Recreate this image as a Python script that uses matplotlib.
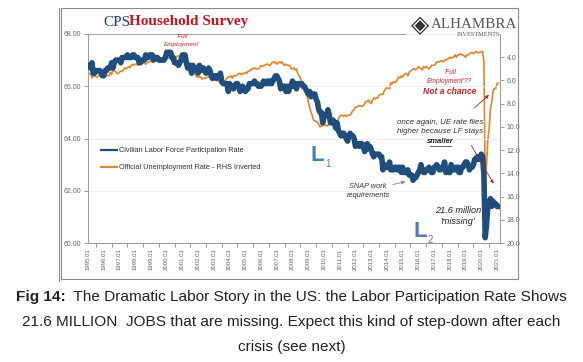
import matplotlib
matplotlib.use("Agg")
import matplotlib.pyplot as plt
from matplotlib.lines import Line2D
import numpy as np

plt.rcParams["font.family"] = ["Liberation Sans", "DejaVu Sans"]

# monthly data, Jan 1995 .. Feb 2021
lfpr = [
    66.8, 66.8, 66.7, 66.9, 66.5, 66.5, 66.6, 66.6, 66.6, 66.6, 66.5, 66.4,  # 1995
    66.4, 66.6, 66.6, 66.7, 66.7, 66.7, 66.9, 66.7, 66.9, 67.0, 67.0, 67.0,  # 1996
    67.0, 66.9, 67.1, 67.1, 67.1, 67.1, 67.2, 67.1, 67.1, 67.1, 67.2, 67.2,  # 1997
    67.1, 67.1, 67.1, 66.9, 66.9, 67.0, 67.0, 67.0, 67.2, 67.1, 67.1, 67.2,  # 1998
    67.2, 67.2, 67.0, 67.1, 67.1, 67.1, 67.0, 67.0, 67.0, 67.0, 67.0, 67.1,  # 1999
    67.3, 67.3, 67.3, 67.3, 67.1, 67.1, 66.9, 66.9, 66.9, 66.8, 66.9, 67.0,  # 2000
    67.2, 67.1, 67.2, 66.9, 66.7, 66.7, 66.8, 66.5, 66.8, 66.7, 66.7, 66.7,  # 2001
    66.5, 66.8, 66.6, 66.7, 66.7, 66.6, 66.5, 66.6, 66.7, 66.6, 66.4, 66.3,  # 2002
    66.4, 66.4, 66.3, 66.4, 66.4, 66.5, 66.2, 66.1, 66.1, 66.1, 66.1, 65.8,  # 2003
    66.1, 66.0, 66.0, 65.9, 66.0, 66.1, 66.1, 66.0, 65.8, 65.9, 66.0, 65.9,  # 2004
    65.8, 65.9, 65.9, 66.1, 66.1, 66.1, 66.1, 66.2, 66.1, 66.1, 66.0, 66.0,  # 2005
    66.0, 66.1, 66.2, 66.1, 66.1, 66.2, 66.1, 66.2, 66.1, 66.2, 66.3, 66.4,  # 2006
    66.4, 66.3, 66.2, 65.9, 66.0, 66.0, 66.0, 65.8, 66.0, 65.8, 66.0, 66.0,  # 2007
    66.2, 66.0, 66.1, 65.9, 66.1, 66.1, 66.1, 66.1, 66.0, 66.0, 65.9, 65.8,  # 2008
    65.7, 65.8, 65.6, 65.7, 65.7, 65.7, 65.5, 65.4, 65.1, 65.0, 65.0, 64.6,  # 2009
    64.8, 64.9, 64.9, 65.1, 64.9, 64.6, 64.6, 64.7, 64.6, 64.4, 64.6, 64.3,  # 2010
    64.2, 64.1, 64.2, 64.2, 64.1, 64.0, 63.9, 64.1, 64.2, 64.1, 64.1, 64.0,  # 2011
    63.7, 63.8, 63.8, 63.7, 63.8, 63.8, 63.7, 63.5, 63.6, 63.8, 63.6, 63.7,  # 2012
    63.6, 63.4, 63.3, 63.4, 63.4, 63.4, 63.4, 63.3, 63.3, 62.8, 63.0, 62.9,  # 2013
    62.9, 62.9, 63.1, 62.8, 62.8, 62.8, 62.9, 62.9, 62.8, 62.9, 62.9, 62.7,  # 2014
    62.9, 62.7, 62.7, 62.7, 62.8, 62.6, 62.6, 62.6, 62.4, 62.5, 62.5, 62.6,  # 2015
    62.7, 62.8, 63.0, 62.8, 62.7, 62.7, 62.8, 62.8, 62.9, 62.8, 62.7, 62.7,  # 2016
    62.9, 62.9, 63.0, 62.9, 62.8, 62.8, 62.9, 62.9, 63.1, 62.7, 62.8, 62.7,  # 2017
    62.7, 63.0, 62.9, 62.8, 62.8, 62.9, 62.9, 62.7, 62.7, 62.9, 62.9, 63.0,  # 2018
    63.1, 63.1, 63.0, 62.8, 62.9, 62.9, 63.0, 63.2, 63.2, 63.3, 63.2, 63.2,  # 2019
    63.4, 63.3, 62.6, 60.2, 60.7, 61.4, 61.5, 61.7, 61.4, 61.6, 61.5, 61.5,  # 2020
    61.4, 61.4,                                                              # 2021
]

unrate = [
    5.6, 5.4, 5.4, 5.8, 5.6, 5.6, 5.7, 5.7, 5.6, 5.5, 5.6, 5.6,  # 1995
    5.6, 5.5, 5.5, 5.6, 5.6, 5.3, 5.5, 5.1, 5.2, 5.2, 5.4, 5.4,  # 1996
    5.3, 5.2, 5.2, 5.1, 4.9, 5.0, 4.9, 4.8, 4.9, 4.7, 4.6, 4.7,  # 1997
    4.6, 4.6, 4.7, 4.3, 4.4, 4.5, 4.5, 4.5, 4.6, 4.5, 4.4, 4.4,  # 1998
    4.3, 4.4, 4.2, 4.3, 4.2, 4.3, 4.3, 4.2, 4.2, 4.1, 4.1, 4.0,  # 1999
    4.0, 4.1, 4.0, 3.8, 4.0, 4.0, 4.0, 4.1, 3.9, 3.9, 3.9, 3.9,  # 2000
    4.2, 4.2, 4.3, 4.4, 4.3, 4.5, 4.6, 4.9, 5.0, 5.3, 5.5, 5.7,  # 2001
    5.7, 5.7, 5.7, 5.9, 5.8, 5.8, 5.8, 5.7, 5.7, 5.7, 5.9, 6.0,  # 2002
    5.8, 5.9, 5.9, 6.0, 6.1, 6.3, 6.2, 6.1, 6.1, 6.0, 5.8, 5.7,  # 2003
    5.7, 5.6, 5.8, 5.6, 5.6, 5.6, 5.5, 5.4, 5.4, 5.5, 5.4, 5.4,  # 2004
    5.3, 5.4, 5.2, 5.2, 5.1, 5.0, 5.0, 4.9, 5.0, 5.0, 5.0, 4.9,  # 2005
    4.7, 4.8, 4.7, 4.7, 4.6, 4.6, 4.7, 4.7, 4.5, 4.4, 4.5, 4.4,  # 2006
    4.6, 4.5, 4.4, 4.5, 4.4, 4.6, 4.7, 4.6, 4.7, 4.7, 4.7, 5.0,  # 2007
    5.0, 4.9, 5.1, 5.0, 5.4, 5.6, 5.8, 6.1, 6.1, 6.5, 6.8, 7.3,  # 2008
    7.8, 8.3, 8.7, 9.0, 9.4, 9.5, 9.5, 9.6, 9.8, 10.0, 9.9, 9.9,  # 2009
    9.8, 9.8, 9.9, 9.9, 9.6, 9.4, 9.4, 9.5, 9.5, 9.4, 9.8, 9.3,  # 2010
    9.1, 9.0, 9.0, 9.1, 9.0, 9.1, 9.0, 9.0, 9.0, 8.8, 8.6, 8.5,  # 2011
    8.3, 8.3, 8.2, 8.2, 8.2, 8.2, 8.2, 8.0, 7.8, 7.8, 7.7, 7.9,  # 2012
    8.0, 7.7, 7.5, 7.6, 7.5, 7.5, 7.3, 7.2, 7.2, 7.2, 6.9, 6.7,  # 2013
    6.6, 6.7, 6.7, 6.2, 6.3, 6.1, 6.2, 6.1, 5.9, 5.7, 5.8, 5.6,  # 2014
    5.7, 5.5, 5.4, 5.4, 5.6, 5.3, 5.2, 5.1, 5.0, 5.0, 5.1, 5.0,  # 2015
    4.8, 4.9, 5.0, 5.1, 4.8, 4.9, 4.8, 4.9, 5.0, 4.9, 4.7, 4.7,  # 2016
    4.7, 4.6, 4.4, 4.4, 4.4, 4.3, 4.3, 4.4, 4.3, 4.2, 4.2, 4.1,  # 2017
    4.0, 4.1, 4.0, 4.0, 3.8, 4.0, 3.8, 3.8, 3.7, 3.8, 3.8, 3.9,  # 2018
    4.0, 3.8, 3.8, 3.7, 3.6, 3.6, 3.7, 3.6, 3.5, 3.6, 3.6, 3.6,  # 2019
    3.5, 3.5, 4.4, 14.8, 13.3, 11.1, 10.2, 8.4, 7.9, 6.9, 6.7, 6.7,  # 2020
    6.3, 6.2,                                                     # 2021
]

years = list(range(1995, 2022))
year_labels = [f"{y}.01" for y in years]
left_ticks = [60, 62, 64, 66, 68]
right_ticks = [4, 6, 8, 10, 12, 14, 16, 18, 20]

BLUE = "#1f4e7c"
ORANGE = "#e0862c"
RED = "#c0282e"
GREY = "#666666"
LBLUE = "#4f7fba"

W, H = 583, 362
fig = plt.figure(figsize=(W / 100, H / 100), dpi=100)


def fx(px):
    return px / W


def fy(py):
    return 1 - py / H


x = 1995 + np.arange(len(lfpr)) / 12

ax = fig.add_axes([fx(87.7), fy(243), fx(500) - fx(87.7), fy(34) - fy(243)])
ax2 = ax.twinx()
ax.set_zorder(2)
ax.patch.set_visible(False)

ax.plot(x, lfpr, color=BLUE, lw=4.0, solid_joinstyle="round", zorder=3)
ax2.plot(x, unrate, color=ORANGE, lw=1.2, zorder=2)

ax.set_xlim(1994.98, 2021.19)
ax.set_ylim(60, 68)
ax2.set_ylim(20, 2)

ax.set_xticks(years)
ax.set_xticklabels(year_labels, rotation=90, fontsize=4.3, color=GREY)
ax.set_xticks([y + 0.5 for y in years[:-1]], minor=True)
ax.tick_params(axis="x", which="major", length=0, pad=4)
ax.tick_params(axis="x", which="minor", length=3, width=0.6, color="#888888")
ax.set_yticks(left_ticks)
ax.set_yticklabels([f"{v:.2f}" for v in left_ticks], fontsize=5, color=GREY)
ax.tick_params(axis="y", length=3, width=0.6, color="#888888", pad=2)
ax.grid(axis="y", color="#ececec", lw=0.6)
ax.set_axisbelow(True)

ax2.set_yticks(right_ticks)
ax2.set_yticklabels([f"{v:.1f}" for v in right_ticks], fontsize=5, color=GREY)
ax2.tick_params(axis="y", length=3, width=0.6, color="#888888", pad=2)

for a in (ax, ax2):
    for s in a.spines.values():
        s.set_visible(False)
ax.spines["left"].set_visible(True)
ax.spines["bottom"].set_visible(True)
ax2.spines["right"].set_visible(True)
for s in (ax.spines["left"], ax.spines["bottom"], ax2.spines["right"]):
    s.set_color("#9a9a9a")
    s.set_linewidth(0.7)
ax.plot([0, 0.77], [1, 1], transform=ax.transAxes, color="#9a9a9a", lw=0.7, clip_on=False)

handles = [Line2D([], [], color=BLUE, lw=1.6), Line2D([], [], color=ORANGE, lw=1.6)]
ax.legend(handles, ["Civilian Labor Force Participation Rate",
                    "Official Unemployment Rate - RHS Inverted"],
          loc="upper left", bbox_to_anchor=(0.015, 0.49), frameon=False,
          fontsize=5.3, labelcolor="#333333", handlelength=2.2, handletextpad=0.3,
          labelspacing=1.35)

# annotations
it = dict(style="italic", ha="center", va="center")
ax.text(2001.0, 67.75, "'Full\nEmployment'", fontsize=4.6, color=RED, linespacing=1.6, **it)
ax.text(2018.0, 66.35, "'Full\nEmployment'??", fontsize=4.8, color=RED, linespacing=1.3, **it)
ax.text(2018.0, 65.78, "Not a chance", fontsize=6.2, color=RED, weight="bold", **it)
ax.text(2017.4, 64.44, "once again, UE rate flies\nhigher because LF stays", fontsize=5.7,
        color="#333333", linespacing=1.3, **it)
ax.text(2017.4, 63.87, "smaller", fontsize=5.5, color="#222222", weight="bold", **it)
ax.plot([2016.72, 2018.08], [63.71, 63.71], color="#222222", lw=0.5)
ax.text(2012.8, 62.0, "SNAP work\nrequirements", fontsize=5.3, color="#333333", linespacing=1.4, **it)
ax.text(2018.5, 61.03, "21.6 million\n'missing'", fontsize=6.6, color="#222222", linespacing=1.2, **it)
ax.text(2009.6, 63.36, "L", fontsize=16, color=LBLUE, weight="bold", ha="center", va="center")
ax.text(2010.25, 63.02, "1", fontsize=7, color=LBLUE, ha="center", va="center")
ax.text(2016.1, 60.45, "L", fontsize=16, color=LBLUE, weight="bold", ha="center", va="center")
ax.text(2016.75, 60.12, "2", fontsize=7, color=LBLUE, ha="center", va="center")

arr = dict(arrowstyle="-|>", lw=0.6, mutation_scale=5)
ax.annotate("", xy=(2020.62, 65.74), xytext=(2019.41, 65.09),
            arrowprops=dict(color="#9b2f3a", **arr))
ax.annotate("", xy=(2020.87, 62.18), xytext=(2019.28, 63.82),
            arrowprops=dict(color="#b02a35", **arr))
ax.annotate("", xy=(2015.34, 62.37), xytext=(2014.2, 62.21),
            arrowprops=dict(color="#6b8fb8", **arr))

# title and logo
fig.text(fx(103), fy(22), "CPS", fontsize=11, color="#1f3a70", family="Liberation Serif",
         ha="left", va="center")
fig.text(fx(129), fy(22), "Household Survey", fontsize=11, color="#c0161e",
         family="Liberation Serif", weight="bold", ha="left", va="center")
fig.text(fx(420), fy(25), "\u25c8", fontsize=17, color="#333333", family="DejaVu Sans",
         ha="center", va="center")
fig.text(fx(431), fy(25), "ALHAMBRA", fontsize=10.8, color="#555555", family="Liberation Serif",
         ha="left", va="center")
fig.text(fx(478), fy(35), "INVESTMENTS", fontsize=4.5, color="#555555", family="Liberation Serif",
         ha="center", va="center")

# frame around the chart image
fig.add_artist(plt.Rectangle((fx(61), fy(279)), fx(518) - fx(61), fy(8) - fy(279),
                             fill=False, ec="#8a8a8a", lw=0.8, transform=fig.transFigure))
fig.add_artist(Line2D([fx(58.5), fx(58.5)], [fy(281), fy(8)], color="#8a8a8a", lw=0.8,
                      transform=fig.transFigure))

# caption
cap = dict(fontsize=11.1, color="#222222", va="center")
fig.canvas.draw()
r = fig.canvas.get_renderer()
t1 = fig.text(0, fy(297), "Fig 14:", weight="bold", ha="left", **cap)
t2 = fig.text(0, fy(297), "  The Dramatic Labor Story in the US: the Labor Participation Rate Shows",
              ha="left", **cap)
w1 = t1.get_window_extent(r).width
w2 = t2.get_window_extent(r).width
x0 = (W - w1 - w2) / 2
t1.set_x(fx(x0))
t2.set_x(fx(x0 + w1))
fig.text(0.5, fy(322), "21.6 MILLION  JOBS that are missing. Expect this kind of step-down after each",
         ha="center", **cap)
fig.text(0.5, fy(347), "crisis (see next)", ha="center", **cap)

fig.savefig("out.png", dpi=100)
